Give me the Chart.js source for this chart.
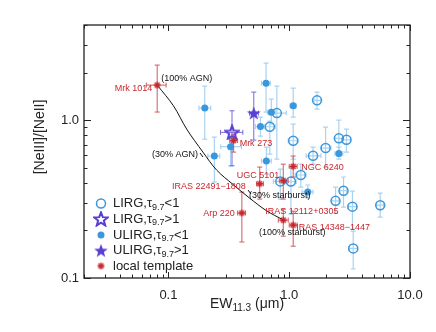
<!DOCTYPE html>
<html><head><meta charset="utf-8">
<script src="https://cdn.jsdelivr.net/npm/chart.js@4.4.0/dist/chart.umd.min.js"></script>
<style>html,body{margin:0;padding:0;background:#fff;}#wrap{width:436px;height:332px;position:relative;}</style>
</head><body><div id="wrap"><canvas id="c" width="436" height="332"></canvas></div>
<script>
// ---------- DATA ----------
// LIRG, tau9.7 < 1 (open circles)
const lirgX    = [0.790, 0.691, 1.079, 1.699, 1.575, 2.002, 2.576, 2.979, 0.844, 1.033, 1.248, 2.419, 2.816, 3.338, 5.668, 3.388];
const lirgY    = [1.107, 0.907, 0.740, 1.333, 0.594, 0.665, 0.766, 0.750, 0.409, 0.408, 0.449, 0.308, 0.357, 0.283, 0.289, 0.154];
const lirgYLo  = [0.566, 0.609, 0.566, 1.174, 0.526, 0.504, 0.592, 0.627, 0.316, 0.254, 0.376, 0.258, 0.281, 0.204, 0.243, 0.114];
const lirgYHi  = [1.642, 0.986, 0.943, 1.504, 0.675, 0.903, 1.000, 0.877, 0.489, 0.504, 0.526, 0.376, 0.436, 0.355, 0.345, 0.198];
const lirgXLo  = [0.685, 0.623, 0.981, 1.605, 1.380, 1.832, 2.388, 2.778, 0.739, 0.945, 1.120, 2.256, 2.625, 3.053, 5.285, 3.112];
const lirgXHi  = [0.945, 0.767, 1.186, 1.832, 1.832, 2.214, 2.778, 3.232, 0.963, 1.142, 1.380, 2.576, 2.996, 3.621, 6.035, 3.690];

// ULIRG, tau9.7 < 1 (filled circles)
const ulirgX   = [0.200, 0.240, 0.327, 0.578, 0.643, 0.711, 0.647, 1.079, 2.576, 1.424];
const ulirgY   = [1.191, 0.592, 0.679, 0.910, 1.708, 1.119, 0.550, 1.232, 0.614, 0.351];
const ulirgYLo = [0.758, 0.405, 0.511, 0.792, 1.124, 0.943, 0.455, 1.045, 0.566, 0.321];
const ulirgYHi = [1.642, 0.780, 0.780, 1.045, 2.296, 1.358, 0.675, 1.595, 0.675, 0.388];
const ulirgXLo = [0.179, 0.212, 0.271, 0.526, 0.589, 0.660, 0.589, 1.019, 2.388, 1.279];
const ulirgXHi = [0.224, 0.266, 0.403, 0.635, 0.698, 0.767, 0.711, 1.142, 2.778, 1.575];

// LIRG, tau9.7 > 1 (open star)
const lirgStarX = [0.336], lirgStarY = [0.836];
const lirgStarYLo = [0.514], lirgStarYHi = [1.145], lirgStarXLo = [0.270], lirgStarXHi = [0.413];

// ULIRG, tau9.7 > 1 (filled star)
const ulirgStarX = [0.509], ulirgStarY = [1.107];
const ulirgStarYLo = [0.747], ulirgStarYHi = [1.504], ulirgStarXLo = [0.469], ulirgStarXHi = [0.556];

// local templates
const templNames = ["Mrk 1014", "Mrk 273", "IRAS 22491\u22121808", "Arp 220", "UGC 5101", "NGC 6240", "IRAS 12112+0305", "IRAS 14348\u22121447"];
const templX   = [0.0807, 0.3466, 0.570, 0.4055, 0.8928, 1.0786, 0.8928, 1.0786];
const templY   = [1.666, 0.742, 0.395, 0.258, 0.4126, 0.509, 0.2326, 0.2163];
const templYLo = [1.124, 0.627, 0.316, 0.169, 0.316, 0.436, 0.184, 0.159];
const templYHi = [2.230, 0.815, 0.504, 0.350, 0.526, 0.592, 0.273, 0.265];
const templXLo = [0.0656, 0.3214, 0.5356, 0.3738, 0.8277, 1.000, 0.8121, 1.000];
const templXHi = [0.0957, 0.3738, 0.6113, 0.4350, 0.9813, 1.163, 0.9813, 1.163];

// AGN / starburst mixing line
const mixX = [0.0807, 0.110, 0.1416, 0.193, 0.251, 0.340, 0.469, 0.647, 0.893];
const mixY = [1.666, 1.232, 0.877, 0.627, 0.482, 0.393, 0.321, 0.267, 0.233];

// axis tick labels
const xTickVals = [0.1, 1, 10];
const yTickVals = [0.1, 1];

// ---------- STYLE ----------
const BLUE = '#3a97dc', BLUE_ERR = '#a9d3f1', PURPLE = '#5a3fd2', PURPLE_ERR = '#7d68da', RED = '#c8262c', RED_ERR = '#d25a5a';
const FONT = '"Liberation Sans", Arial, sans-serif';
const templLabelPos = [
  {dx:-5, dy:3, align:'right'}, {dx:6, dy:2.5, align:'left'}, {dx:-14, dy:3, align:'right'}, {dx:-7, dy:0.5, align:'right'},
  {dx:-4, dy:-5.5, align:'right'}, {dx:8, dy:1, align:'left'}, {dx:-18, dy:-9, align:'left'}, {dx:3, dy:2, align:'left'}
];

function pts(xs, ys, xlo, xhi, ylo, yhi){
  return xs.map((x,i)=>({x, y:ys[i], xMin:xlo?xlo[i]:x, xMax:xhi?xhi[i]:x, yMin:ylo?ylo[i]:ys[i], yMax:yhi?yhi[i]:ys[i]}));
}
function starCanvas(size, fill, stroke, lw){
  const c=document.createElement('canvas'); c.width=c.height=size;
  const g=c.getContext('2d'); const cx=size/2, cy=size/2+0.6, R=size/2-0.8, r=R*0.42;
  g.beginPath();
  for(let k=0;k<10;k++){const a=-Math.PI/2+k*Math.PI/5; const rr=k%2?r:R; g.lineTo(cx+rr*Math.cos(a), cy+rr*Math.sin(a));}
  g.closePath();
  if(fill){g.fillStyle=fill; g.fill();}
  if(stroke){g.strokeStyle=stroke; g.lineWidth=lw; g.lineJoin='miter'; g.stroke();}
  return c;
}
function asteriskCanvas(size, color){
  const c=document.createElement('canvas'); c.width=c.height=size;
  const g=c.getContext('2d'); const m=size/2, r=size/2-1;
  g.strokeStyle=color; g.lineWidth=1.3; g.beginPath();
  for(let k=0;k<4;k++){const a=k*Math.PI/4; g.moveTo(m-r*Math.cos(a), m-r*Math.sin(a)); g.lineTo(m+r*Math.cos(a), m+r*Math.sin(a));}
  g.stroke();
  g.fillStyle=color; g.fillRect(m-1.5,m-1.5,3,3);
  return c;
}
const filledStar = starCanvas(16, PURPLE, null, 0);
const openStar = starCanvas(16, null, PURPLE, 2);
const asterisk = asteriskCanvas(9, RED);

const errPlugin = {
  id:'errbars',
  beforeDatasetsDraw(chart){
    const ctx=chart.ctx, xs=chart.scales.x, ys=chart.scales.y;
    chart.data.datasets.forEach(ds=>{
      if(!ds.errColor) return;
      ctx.save(); ctx.strokeStyle=ds.errColor; ctx.lineWidth=ds.errWidth||1;
      const c=2.5;
      ds.data.forEach(p=>{
        const px=xs.getPixelForValue(p.x), py=ys.getPixelForValue(p.y);
        const x0=xs.getPixelForValue(p.xMin), x1=xs.getPixelForValue(p.xMax);
        const y0=ys.getPixelForValue(p.yMax), y1=ys.getPixelForValue(p.yMin);
        ctx.beginPath();
        ctx.moveTo(x0,py); ctx.lineTo(x1,py);
        ctx.moveTo(x0,py-c); ctx.lineTo(x0,py+c);
        ctx.moveTo(x1,py-c); ctx.lineTo(x1,py+c);
        ctx.moveTo(px,y0); ctx.lineTo(px,y1);
        ctx.moveTo(px-c,y0); ctx.lineTo(px+c,y0);
        ctx.moveTo(px-c,y1); ctx.lineTo(px+c,y1);
        ctx.stroke();
      });
      ctx.restore();
    });
  }
};

function subText(ctx, parts, x, y, align){
  let w=0;
  parts.forEach(p=>{ctx.font=p[1]?p[2]:p[3]; w+=ctx.measureText(p[0]).width;});
  let cx = align==='center'? x-w/2 : x;
  parts.forEach(p=>{ctx.font=p[1]?p[2]:p[3]; ctx.textAlign='left'; ctx.fillText(p[0], cx, y+(p[1]?4:0)); cx+=ctx.measureText(p[0]).width;});
}

const decorPlugin = {
  id:'decor',
  afterDraw(chart){
    const {ctx, chartArea:a, scales:{x,y}} = chart;
    ctx.save();
    // frame
    ctx.strokeStyle='#222'; ctx.lineWidth=1.3;
    ctx.strokeRect(a.left, a.top, a.right-a.left, a.bottom-a.top);
    ctx.lineWidth=1; ctx.beginPath();
    for(let d=-2; d<=1; d++) for(let m=1;m<=9;m++){
      const v=m*Math.pow(10,d); if(v<x.min*0.999||v>x.max*1.001) continue;
      const px=Math.round(x.getPixelForValue(v))+0.5, L=m===1?6:3.5;
      ctx.moveTo(px,a.bottom); ctx.lineTo(px,a.bottom-L);
      ctx.moveTo(px,a.top); ctx.lineTo(px,a.top+L);
    }
    for(let d=-1; d<=0; d++) for(let m=1;m<=9;m++){
      const v=m*Math.pow(10,d); if(v<y.min*0.999||v>y.max*1.001) continue;
      const py=Math.round(y.getPixelForValue(v))+0.5, L=m===1?7:3.5;
      ctx.moveTo(a.left,py); ctx.lineTo(a.left+L,py);
      ctx.moveTo(a.right,py); ctx.lineTo(a.right-L,py);
    }
    ctx.stroke();

    // template labels
    ctx.fillStyle=RED; ctx.font='9px '+FONT; ctx.textBaseline='middle';
    templNames.forEach((n,i)=>{
      const px=x.getPixelForValue(templX[i]), py=y.getPixelForValue(templY[i]);
      const s=templLabelPos[i]; ctx.textAlign=s.align; ctx.fillText(n, px+s.dx, py+s.dy);
    });
    // mixing line labels
    ctx.fillStyle='#111';
    const p0x=x.getPixelForValue(mixX[0]), p0y=y.getPixelForValue(mixY[0]);
    const pnx=x.getPixelForValue(mixX[mixX.length-1]), pny=y.getPixelForValue(mixY[mixY.length-1]);
    ctx.textAlign='left'; ctx.fillText('(100% AGN)', p0x+4, p0y-7);
    ctx.textAlign='right'; ctx.fillText('(30% AGN)', 198, 155);
    ctx.textAlign='left'; ctx.fillText('(30% starburst)', 249, 196);
    ctx.textAlign='center'; ctx.fillText('(100% starburst)', pnx+9, pny+13);
    ctx.strokeStyle='#111'; ctx.lineWidth=1; ctx.beginPath();
    ctx.moveTo(200,153); ctx.lineTo(203,157);
    ctx.moveTo(248,190); ctx.lineTo(251,194);
    ctx.stroke();

    // legend
    const lx=101, tx=113, rows=[203.5,219,235,250.5,266];
    const big='13px '+FONT, small='9px '+FONT;
    ctx.strokeStyle=BLUE; ctx.lineWidth=1.5; ctx.beginPath(); ctx.arc(lx,rows[0],4.5,0,Math.PI*2); ctx.stroke();
    ctx.drawImage(openStar, lx-8, rows[1]-8);
    ctx.fillStyle=BLUE; ctx.beginPath(); ctx.arc(lx,rows[2],3.5,0,Math.PI*2); ctx.fill();
    ctx.drawImage(filledStar, lx-8, rows[3]-8);
    ctx.drawImage(asterisk, lx-4.5, rows[4]-4.5);
    ctx.fillStyle='#222'; ctx.textBaseline='middle';
    const legTexts=[['LIRG,\u03C4','<1'],['LIRG,\u03C4','>1'],['ULIRG,\u03C4','<1'],['ULIRG,\u03C4','>1']];
    legTexts.forEach((t,i)=>subText(ctx, [[t[0],false,small,big],['9.7',true,small,big],[t[1],false,small,big]], tx, rows[i], 'left'));
    ctx.font=big; ctx.textAlign='left'; ctx.fillText('local template', tx, rows[4]);

    // axis titles
    ctx.fillStyle='#222';
    subText(ctx, [['EW',false,'10px '+FONT,'14px '+FONT],['11.3',true,'10px '+FONT,'14px '+FONT],[' (\u03BCm)',false,'10px '+FONT,'14px '+FONT]], (a.left+a.right)/2, 304, 'center');
    ctx.translate(40,137); ctx.rotate(-Math.PI/2); ctx.textAlign='center'; ctx.font='14px '+FONT;
    ctx.fillText('[NeIII]/[NeII]', 0, 0);
    ctx.restore();
  }
};

new Chart(document.getElementById('c'), {
  type:'scatter',
  data:{datasets:[
    {label:'mix', type:'line', data:mixX.map((v,i)=>({x:v,y:mixY[i]})), showLine:true, pointRadius:0, borderColor:'#111', borderWidth:1, tension:0.35, fill:false, order:10},
    {label:'LIRG t<1', data:pts(lirgX,lirgY,lirgXLo,lirgXHi,lirgYLo,lirgYHi), pointStyle:'circle', pointRadius:4.5, borderColor:BLUE, backgroundColor:'rgba(0,0,0,0)', borderWidth:1.5, errColor:BLUE_ERR, errWidth:1.2, order:3},
    {label:'ULIRG t<1', data:pts(ulirgX,ulirgY,ulirgXLo,ulirgXHi,ulirgYLo,ulirgYHi), pointStyle:'circle', pointRadius:3.5, borderWidth:0, backgroundColor:BLUE, errColor:BLUE_ERR, errWidth:1.2, order:3},
    {label:'LIRG t>1', data:pts(lirgStarX,lirgStarY,lirgStarXLo,lirgStarXHi,lirgStarYLo,lirgStarYHi), pointStyle:openStar, errColor:PURPLE_ERR, errWidth:1, order:2},
    {label:'ULIRG t>1', data:pts(ulirgStarX,ulirgStarY,ulirgStarXLo,ulirgStarXHi,ulirgStarYLo,ulirgStarYHi), pointStyle:filledStar, errColor:PURPLE_ERR, errWidth:1, order:2},
    {label:'local template', data:pts(templX,templY,templXLo,templXHi,templYLo,templYHi), pointStyle:asterisk, errColor:RED_ERR, errWidth:1, order:1}
  ]},
  options:{
    responsive:false, animation:false, devicePixelRatio:1,
    layout:{padding:{top:25,right:26,bottom:0,left:0}},
    plugins:{legend:{display:false}, tooltip:{enabled:false}},
    scales:{
      x:{type:'logarithmic', min:0.02, max:10,
        afterFit:s=>{s.height=54;},
        afterBuildTicks:s=>{s.ticks=xTickVals.map(v=>({value:v}));},
        grid:{display:false, drawTicks:false}, border:{display:false},
        ticks:{padding:10, color:'#222', font:{family:FONT,size:13}, maxRotation:0, autoSkip:false, callback:v=>Number(v).toFixed(1)}},
      y:{type:'logarithmic', min:0.1, max:4,
        afterFit:s=>{s.width=84;},
        afterBuildTicks:s=>{s.ticks=yTickVals.map(v=>({value:v}));},
        grid:{display:false, drawTicks:false}, border:{display:false},
        ticks:{padding:5, color:'#222', font:{family:FONT,size:13}, autoSkip:false, callback:v=>Number(v).toFixed(1)}}
    }
  },
  plugins:[errPlugin, decorPlugin]
});
</script></body></html>
